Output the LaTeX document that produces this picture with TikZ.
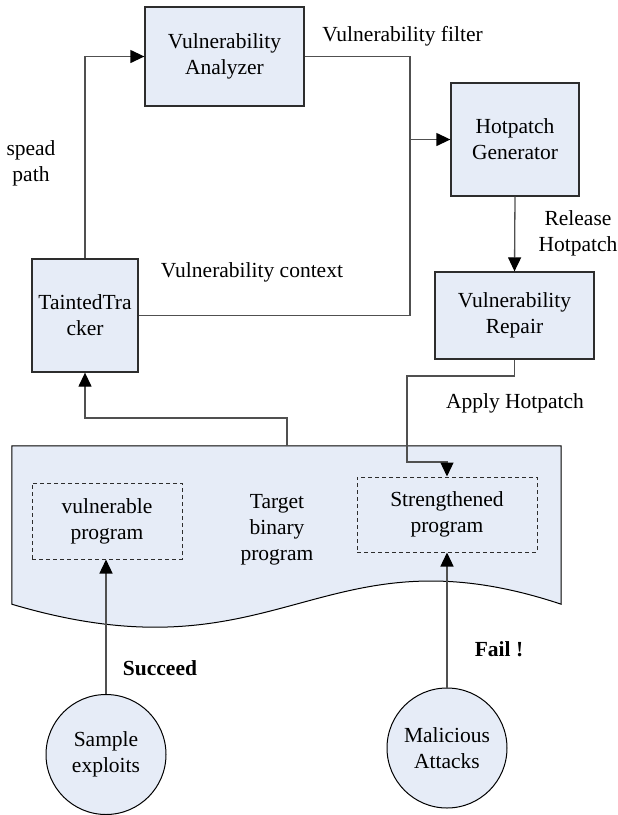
\documentclass[tikz,border=0pt]{standalone}
\usepackage{fontspec}
\setmainfont{Liberation Serif}
\usetikzlibrary{arrows.meta}
\definecolor{boxfill}{RGB}{230,236,247}
\definecolor{boxline}{RGB}{45,45,45}
\definecolor{connline}{RGB}{80,80,80}
\begin{document}
\begin{tikzpicture}[x=1pt,y=-1pt,
  font=\fontsize{21.5}{26}\selectfont,
  box/.style={draw=boxline, line width=1.3pt, fill=boxfill, align=center, inner sep=0pt},
  dbox/.style={draw=boxline, dash pattern=on 4pt off 3pt, line width=1pt, align=center, inner sep=0pt},
  circ/.style={circle, draw=black, line width=1pt, fill=boxfill, minimum size=120pt, align=center, inner sep=0pt},
  cline/.style={draw=connline, line width=1.3pt},
  conn/.style={cline, -{Triangle[length=14pt,width=13pt,color=black]}},
  lbl/.style={align=center, inner sep=0pt}]
\useasboundingbox (0,0) rectangle (618,815);

% target binary program (document shape)
\node[minimum width=549pt, minimum height=158pt, inner sep=0pt] (doc) at (286.5,525) {};
\path[draw=black, line width=1pt, fill=boxfill]
  (doc.north west) -- (doc.north east) -- (doc.south east)
  .. controls (320,524) and (280,684) .. (doc.south west) -- cycle;
\node[lbl] (tgt) at (277,530) {Target\\binary\\program};

% boxes
\node[box, minimum width=159pt, minimum height=99pt] (ana) at (224.5,56.5) {Vulnerability\\Analyzer};
\node[box, minimum width=128pt, minimum height=113pt] (gen) at (515,139.5) {Hotpatch\\Generator};
\node[box, minimum width=106pt, minimum height=113pt] (tt) at (85,315.5) {TaintedTra\\cker};
\node[box, minimum width=159pt, minimum height=87pt] (rep) at (514.5,315.5) {Vulnerability\\Repair};

\node[dbox, minimum width=150pt, minimum height=76pt] (vp) at (107,521) {vulnerable\\program};
\node[dbox, minimum width=180pt, minimum height=75pt] (sp) at (447,514.5) {Strengthened\\program};

\node[circ] (se) at (106,754.5) {Sample\\exploits};
\node[circ] (ma) at (447,748) {Malicious\\Attacks};

% helper coordinates
\coordinate (j) at (410,139.5);
\coordinate (r1) at (407,376);
\coordinate (r2) at (407,462);
\coordinate (t1) at (287,446);
\coordinate (t2) at (85,418);

% connectors
\draw[conn] (tt.north) |- (ana.west);
\draw[conn] (ana.east) -| (j) -- (gen.west);
\draw[cline] (tt.east) -| (j);
\draw[conn] (gen.south) -- (rep.north);
\draw[conn] (rep.south) |- (r1) -- (r2) -| (sp.north);
\draw[conn] (t1) |- (t2) -- (tt.south);
\draw[conn] (se.north) -- (se.north |- vp.south);
\draw[conn] (ma.north) -- (sp.south);

% labels
\node[lbl] (l1) at (402.5,36) {Vulnerability filter};
\node[lbl] (l2) at (31,163) {spead\\path};
\node[lbl] (l3) at (578,233.5) {Release\\Hotpatch};
\node[lbl] (l4) at (252,272) {Vulnerability context};
\node[lbl] (l5) at (515,403) {Apply Hotpatch};
\node[lbl] (l6) at (160,668) {\textbf{Succeed}};
\node[lbl] (l7) at (499,649) {\textbf{Fail !}};
\end{tikzpicture}
\end{document}
